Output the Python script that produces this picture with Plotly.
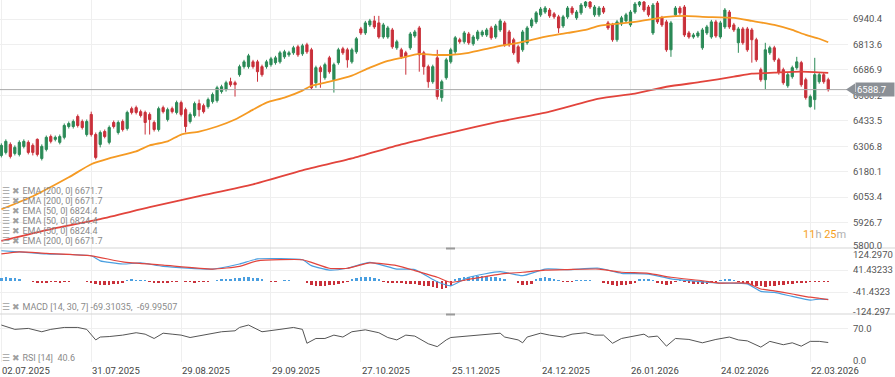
import plotly.graph_objects as go

# ---------------- data ----------------
DATE_LABELS = ["02.07.2025", "31.07.2025", "29.08.2025", "29.09.2025", "27.10.2025",
               "25.11.2025", "24.12.2025", "26.01.2026", "24.02.2026", "22.03.2026"]
DATE_BARS = [0, 20, 40, 60, 80, 100, 120, 140, 160, 180]

OPEN = [6261, 6276, 6316, 6271, 6266, 6306, 6326, 6311, 6341, 6246,
        6291, 6355, 6341, 6326, 6351, 6405, 6405, 6455, 6430, 6365,
        6465, 6365, 6316, 6380, 6326, 6425, 6375, 6430, 6395, 6494,
        6499, 6479, 6475, 6465, 6425, 6390, 6499, 6440, 6494, 6475,
        6524, 6489, 6430, 6460, 6519, 6509, 6504, 6529, 6534, 6579,
        6589, 6628, 6623, 6663, 6703, 6703, 6727, 6727, 6703, 6703,
        6713, 6723, 6727, 6752, 6762, 6772, 6802, 6767, 6812, 6787,
        6623, 6698, 6648, 6747, 6638, 6723, 6792, 6787, 6727, 6777,
        6891, 6871, 6911, 6931, 6921, 6851, 6851, 6886, 6797, 6787,
        6772, 6797, 6856, 6896, 6772, 6703, 6628, 6747, 6549, 6648,
        6727, 6777, 6837, 6827, 6866, 6817, 6842, 6861, 6861, 6896,
        6851, 6886, 6921, 6876, 6837, 6802, 6787, 6822, 6906, 6926,
        6961, 6975, 6985, 6966, 6951, 6906, 6951, 6995, 6946, 6971,
        7005, 7025, 6961, 6961, 6995, 6921, 6911, 6837, 6916, 6931,
        6911, 6975, 7010, 7025, 7000, 6871, 7020, 6946, 6926, 6787,
        6961, 6995, 7000, 6871, 6851, 6856, 6797, 6871, 6851, 6926,
        6851, 6901, 6975, 6911, 6822, 6891, 6891, 6886, 6837, 6688,
        6638, 6772, 6797, 6737, 6688, 6608, 6653, 6698, 6723, 6638,
        6504, 6539, 6628, 6663, 6638]

HIGH = [6321, 6341, 6326, 6311, 6336, 6341, 6336, 6321, 6346, 6316,
        6360, 6365, 6360, 6365, 6420, 6430, 6440, 6465, 6440, 6440,
        6479, 6375, 6385, 6390, 6410, 6435, 6435, 6440, 6484, 6504,
        6509, 6489, 6484, 6475, 6435, 6504, 6509, 6499, 6504, 6534,
        6534, 6499, 6475, 6529, 6539, 6519, 6549, 6574, 6608, 6613,
        6633, 6648, 6633, 6713, 6737, 6767, 6737, 6737, 6713, 6737,
        6752, 6757, 6782, 6787, 6782, 6807, 6812, 6817, 6822, 6797,
        6708, 6708, 6723, 6757, 6723, 6797, 6802, 6797, 6797, 6851,
        6901, 6931, 6941, 6956, 6956, 6921, 6906, 6896, 6837, 6797,
        6782, 6876, 6886, 6906, 6782, 6713, 6713, 6787, 6638, 6747,
        6797, 6856, 6847, 6881, 6876, 6861, 6886, 6886, 6896, 6906,
        6916, 6941, 6931, 6886, 6847, 6812, 6886, 6906, 6946, 6980,
        7000, 7005, 6995, 6975, 6961, 6961, 7005, 7005, 6985, 7020,
        7030, 7030, 7010, 7005, 7005, 6931, 6921, 6936, 6956, 6971,
        6985, 7025, 7030, 7030, 7010, 7020, 7030, 6956, 6936, 6931,
        7005, 7005, 7010, 6881, 6871, 6881, 6896, 6911, 6936, 6936,
        6931, 6995, 6985, 6921, 6901, 6901, 6901, 6896, 6847, 6698,
        6822, 6807, 6807, 6747, 6698, 6673, 6708, 6752, 6732, 6648,
        6564, 6747, 6673, 6673, 6648]

LOW = [6251, 6266, 6246, 6261, 6256, 6296, 6266, 6261, 6256, 6236,
       6281, 6321, 6331, 6316, 6341, 6395, 6395, 6400, 6390, 6355,
       6355, 6241, 6301, 6346, 6316, 6395, 6365, 6380, 6385, 6465,
       6465, 6450, 6365, 6365, 6380, 6380, 6470, 6430, 6470, 6465,
       6455, 6375, 6420, 6450, 6455, 6470, 6494, 6519, 6524, 6569,
       6579, 6603, 6554, 6653, 6693, 6693, 6693, 6628, 6653, 6693,
       6703, 6713, 6718, 6742, 6752, 6762, 6752, 6757, 6767, 6589,
       6598, 6598, 6638, 6668, 6574, 6713, 6762, 6698, 6718, 6767,
       6861, 6861, 6901, 6891, 6842, 6842, 6842, 6792, 6787, 6742,
       6663, 6787, 6847, 6678, 6663, 6598, 6618, 6539, 6529, 6638,
       6718, 6767, 6817, 6817, 6812, 6807, 6832, 6851, 6851, 6837,
       6842, 6876, 6802, 6802, 6762, 6718, 6777, 6812, 6896, 6916,
       6951, 6966, 6946, 6941, 6871, 6896, 6941, 6961, 6936, 6961,
       6995, 6990, 6951, 6951, 6966, 6886, 6827, 6827, 6906, 6921,
       6901, 6966, 7000, 6975, 6951, 6861, 6916, 6901, 6777, 6752,
       6951, 6961, 6851, 6842, 6842, 6847, 6787, 6861, 6842, 6847,
       6842, 6891, 6891, 6876, 6772, 6812, 6777, 6723, 6727, 6628,
       6589, 6762, 6727, 6663, 6613, 6598, 6643, 6688, 6603, 6539,
       6499, 6489, 6618, 6618, 6579]

CLOSE = [6311, 6331, 6256, 6301, 6326, 6331, 6276, 6276, 6266, 6306,
         6351, 6331, 6351, 6355, 6410, 6420, 6430, 6410, 6400, 6430,
         6365, 6251, 6375, 6355, 6400, 6405, 6425, 6390, 6475, 6475,
         6475, 6460, 6425, 6440, 6390, 6494, 6479, 6489, 6479, 6524,
         6465, 6405, 6465, 6519, 6489, 6479, 6539, 6564, 6598, 6603,
         6623, 6613, 6613, 6703, 6727, 6757, 6703, 6678, 6663, 6727,
         6742, 6747, 6772, 6777, 6772, 6797, 6762, 6807, 6777, 6598,
         6698, 6678, 6713, 6678, 6713, 6787, 6772, 6737, 6787, 6842,
         6871, 6921, 6931, 6901, 6851, 6911, 6896, 6802, 6827, 6752,
         6752, 6866, 6876, 6762, 6703, 6628, 6703, 6554, 6628, 6737,
         6787, 6847, 6827, 6871, 6822, 6851, 6876, 6876, 6886, 6847,
         6906, 6931, 6812, 6812, 6772, 6727, 6876, 6896, 6936, 6971,
         6990, 6995, 6956, 6951, 6896, 6951, 6995, 6971, 6975, 7010,
         7025, 7000, 7000, 6995, 6975, 6896, 6837, 6926, 6946, 6961,
         6975, 7015, 7025, 6985, 6961, 7010, 6926, 6911, 6787, 6921,
         6995, 6971, 6861, 6851, 6861, 6871, 6886, 6901, 6926, 6856,
         6921, 6985, 6901, 6886, 6891, 6822, 6787, 6837, 6737, 6638,
         6787, 6797, 6737, 6673, 6623, 6663, 6698, 6727, 6613, 6549,
         6554, 6663, 6663, 6628, 6588.7]

EMA50_BARS = [0, 7, 15, 20, 24, 30, 33, 37, 40, 44, 48, 52, 56, 59, 63, 67, 69, 73, 78, 82,
              86, 89, 93, 96, 100, 104, 108, 111, 115, 118, 122, 126, 130, 133, 141, 148, 152,
              156, 163, 167, 172, 176, 179, 182, 184]
EMA50_VALS = [5993, 6058, 6152, 6217, 6246, 6281, 6311, 6331, 6365, 6380, 6405, 6440, 6489,
              6524, 6549, 6584, 6608, 6628, 6658, 6698, 6732, 6747, 6767, 6762, 6762, 6772,
              6792, 6807, 6822, 6837, 6856, 6871, 6886, 6906, 6926, 6951, 6956, 6951, 6946,
              6931, 6911, 6886, 6861, 6842, 6824.4]

EMA200_BARS = [0, 11, 22, 33, 44, 56, 67, 78, 89, 100, 111, 122, 133, 141, 148, 156, 163,
               167, 172, 178, 184]
EMA200_VALS = [5835, 5894, 5944, 6003, 6058, 6117, 6187, 6246, 6316, 6375, 6430, 6479, 6544,
               6569, 6603, 6628, 6653, 6668, 6673, 6678, 6671.7]

MACD_BARS = [0, 4, 10, 20, 22, 27, 31, 36, 47, 53, 57, 67, 69, 73, 77, 82, 88, 92, 97, 100,
             104, 111, 116, 121, 126, 133, 138, 144, 149, 156, 160, 166, 169, 172, 176, 180,
             182, 184]
MACD_VALS = [114, 110, 102, 95, 76, 64, 68, 55, 45, 64, 83, 80, 58, 41, 48, 70, 45, 43, -3,
             -18, 14, 35, 20, 45, 43, 48, 29, 26, 8, -3, -8, -11, -39, -43, -58, -72, -68,
             -69.31035]

SIGNAL_BARS = [0, 4, 10, 20, 27, 36, 47, 53, 57, 67, 69, 73, 77, 82, 88, 92, 97, 100, 104,
               111, 116, 121, 126, 133, 138, 144, 149, 156, 160, 166, 169, 172, 176, 180, 182,
               184]
SIGNAL_VALS = [102, 110, 104, 95, 72, 60, 45, 55, 76, 80, 70, 48, 48, 68, 58, 39, 14, -5, 6,
               26, 33, 41, 43, 45, 33, 29, 14, 1, -8, -8, -30, -37, -49, -61, -65, -69.99507]

HIST_VALS = [12, 14, 12, 10, 4, 0, 0, -3, -4, -4,
             -4, -3, -3, -4, -3, -1, 0, 0, 0, -1,
             -8, -12, -14, -16, -15, -13, -11, -8, 3, 4,
             3, 2, 1, -3, -4, -4, -5, -4, -3, -2,
             0, -3, -3, -4, -3, -3, -2, 0, 3, 5,
             7, 8, 10, 12, 14, 15, 13, 10, 6, 0,
             -2, -2, 0, 1, 2, 0, 0, 0, -8, -14,
             -18, -20, -18, -16, -14, -10, -6, -2, 8, 12,
             15, 16, 14, 10, 5, -3, -5, -7, -8, -9,
             -10, -12, -13, -15, -17, -20, -23, -27, -30, -28,
             -18, 6, 10, 14, 16, 18, 20, 20, 18, 16,
             14, 10, 6, 0, 0, -8, -14, -14, -10, 6,
             10, 14, 12, 8, 3, -2, -2, -2, 2, 3,
             3, 2, 0, 0, -6, -12, -16, -18, -16, -14,
             -10, -6, 4, 6, 5, 3, -4, -12, -14, -10,
             -3, 2, -3, -6, -10, -12, -12, -10, -8, -5,
             3, 6, 6, 3, -3, -6, -10, -14, -18, -20,
             -22, -20, -18, -16, -14, -12, -10, -8, -5, -4,
             -3, -3, -3, -2, -2]

RSI_BARS = [0, 3, 6, 9, 11, 14, 17, 19, 21, 22, 24, 27, 30, 32, 34, 36, 38, 40, 42, 45, 49,
            52, 53, 55, 58, 62, 65, 67, 68, 70, 72, 74, 76, 78, 81, 84, 86, 88, 90, 92, 95,
            97, 99, 100, 104, 107, 111, 112, 115, 116, 117, 120, 122, 125, 127, 130, 132,
            134, 136, 138, 142, 143, 144, 146, 148, 150, 153, 156, 159, 162, 164, 166, 169,
            171, 174, 176, 178, 180, 182, 184]
RSI_VALS = [77, 68, 70, 63, 68, 72, 72, 68, 46, 52, 53, 56, 61, 58, 49, 60, 58, 56, 51, 56,
            63, 65, 72, 77, 63, 68, 72, 68, 39, 49, 49, 56, 52, 63, 67, 61, 51, 46, 56, 54,
            38, 32, 46, 51, 54, 56, 60, 52, 46, 40, 52, 60, 56, 52, 58, 61, 56, 56, 39, 49,
            56, 58, 52, 54, 33, 49, 47, 40, 47, 52, 46, 44, 31, 43, 36, 40, 33, 43, 43, 40.6]

PRICE_TICKS = [5926.7, 6053.4, 6180.1, 6306.8, 6433.5, 6560.2, 6686.9, 6813.6, 6940.4]
PRICE_MIN, PRICE_MAX = 5800.0, 7035.0
MACD_LIM = 124.297
MACD_TICKS = [41.43233, -41.4323]
RSI_TICKS = [70]
LAST_PRICE = 6588.7

# ---------------- style ----------------
W, H = 895, 377
ML, MR, MT, MB = 0, 47, 0, 15
PH = H - MT - MB
PW = W - ML - MR
PRICE_DOM = [114 / PH, 1.0]
MACD_DOM = [48 / PH, 114 / PH]
RSI_DOM = [0.0, 48 / PH]

GREEN = "#2b8a57"
RED = "#c9303a"
ORANGE = "#f59a23"
EMA_RED = "#e2443c"
BLUE = "#4a9fe0"
GRID = "#efefef"
SEP = "#d5d5d5"
TXT = "#555555"
LEG = "#8a8a8a"
FONT = "Roboto"
TICK_SIZE = 9.5

bars = list(range(len(CLOSE)))

fig = go.Figure()

fig.add_trace(go.Candlestick(
    x=bars, open=OPEN, high=HIGH, low=LOW, close=CLOSE,
    increasing=dict(line=dict(color=GREEN, width=1), fillcolor=GREEN),
    decreasing=dict(line=dict(color=RED, width=1), fillcolor=RED),
    whiskerwidth=0, xaxis="x", yaxis="y", showlegend=False, hoverinfo="skip"))

fig.add_trace(go.Scatter(x=EMA200_BARS, y=EMA200_VALS, mode="lines",
                         line=dict(color=EMA_RED, width=1.8, shape="spline", smoothing=0.6),
                         xaxis="x", yaxis="y", showlegend=False, hoverinfo="skip"))
fig.add_trace(go.Scatter(x=EMA50_BARS, y=EMA50_VALS, mode="lines",
                         line=dict(color=ORANGE, width=1.8, shape="spline", smoothing=0.6),
                         xaxis="x", yaxis="y", showlegend=False, hoverinfo="skip"))

fig.add_trace(go.Bar(x=bars, y=HIST_VALS, width=0.55,
                     marker=dict(color=[BLUE if v >= 0 else RED for v in HIST_VALS], line=dict(width=0)),
                     xaxis="x2", yaxis="y2", showlegend=False, hoverinfo="skip"))
fig.add_trace(go.Scatter(x=MACD_BARS, y=MACD_VALS, mode="lines",
                         line=dict(color=BLUE, width=1.2, shape="spline", smoothing=0.5),
                         xaxis="x2", yaxis="y2", showlegend=False, hoverinfo="skip"))
fig.add_trace(go.Scatter(x=SIGNAL_BARS, y=SIGNAL_VALS, mode="lines",
                         line=dict(color=EMA_RED, width=1.2, shape="spline", smoothing=0.5),
                         xaxis="x2", yaxis="y2", showlegend=False, hoverinfo="skip"))

fig.add_trace(go.Scatter(x=RSI_BARS, y=RSI_VALS, mode="lines",
                         line=dict(color="#555555", width=1),
                         xaxis="x3", yaxis="y3", showlegend=False, hoverinfo="skip"))

xr = [-0.3, 188.4]
xcommon = dict(range=xr, tickvals=DATE_BARS, showgrid=True, gridcolor=GRID, gridwidth=1,
               zeroline=False, showline=False, ticks="", fixedrange=True, automargin=False,
               showticklabels=False)
ycommon = dict(side="right", showgrid=True, gridcolor=GRID, zeroline=False, showline=False,
               ticks="", tickfont=dict(family=FONT, size=TICK_SIZE, color=TXT),
               ticklabelstandoff=4, automargin=False, fixedrange=True)

fig.update_layout(
    template="none",
    width=W, height=H, margin=dict(l=ML, r=MR, t=MT, b=MB, pad=0),
    paper_bgcolor="white", plot_bgcolor="white", showlegend=False,
    font=dict(family=FONT, size=TICK_SIZE, color=TXT),
    bargap=0,
    xaxis=dict(xcommon, anchor="y", rangeslider=dict(visible=False)),
    xaxis2=dict(xcommon, anchor="y2", matches="x"),
    xaxis3=dict(xcommon, anchor="y3", matches="x"),
    yaxis=dict(ycommon, domain=PRICE_DOM, range=[PRICE_MIN, PRICE_MAX], anchor="x",
               tickvals=PRICE_TICKS, ticktext=[f"{v:.1f}" for v in PRICE_TICKS]),
    yaxis2=dict(ycommon, domain=MACD_DOM, range=[-MACD_LIM, MACD_LIM], anchor="x2",
                tickvals=MACD_TICKS, ticktext=["41.43233", "-41.4323"]),
    yaxis3=dict(ycommon, domain=RSI_DOM, range=[0, 100], anchor="x3",
                tickvals=RSI_TICKS, ticktext=["70.0"]),
)

shapes = []
xr_full = W / PW
for yv in (PRICE_DOM[0], MACD_DOM[0]):
    shapes.append(dict(type="line", xref="paper", yref="paper", x0=0, x1=xr_full, y0=yv, y1=yv,
                       line=dict(color=SEP, width=1)))
    shapes.append(dict(type="rect", xref="paper", yref="paper", x0=446 / PW, x1=455 / PW,
                       y0=yv - 1.5 / PH, y1=yv + 0.5 / PH, fillcolor="#9a9a9a", line=dict(width=0)))
# last price line
shapes.append(dict(type="line", xref="x domain", yref="y", x0=0, x1=1, y0=LAST_PRICE, y1=LAST_PRICE,
                   line=dict(color="#a9a9a9", width=1)))
# pointer of the last-price tag
du = (PRICE_MAX - PRICE_MIN) / (PRICE_DOM[1] - PRICE_DOM[0]) / PH  # price per px
x_tip = 1.0 - 2 / PW
x_box = 1.0 + 7 / PW
h = 6 * du
shapes.append(dict(type="path", xref="paper", yref="y",
                   path=f"M {x_tip},{LAST_PRICE} L {x_box},{LAST_PRICE + h} L {x_box},{LAST_PRICE - h} Z",
                   fillcolor="#8b9096", line=dict(width=0)))
fig.update_layout(shapes=shapes)

ann = []
icon = "<span style='color:#a0a0a0'>☰ ✖</span> "
leg_rows = [("EMA [200, 0]", EMA200_VALS[-1]), ("EMA [200, 0]", EMA200_VALS[-1]),
            ("EMA [50, 0]", EMA50_VALS[-1]), ("EMA [50, 0]", EMA50_VALS[-1]),
            ("EMA [50, 0]", EMA50_VALS[-1]), ("EMA [200, 0]", EMA200_VALS[-1])]
for k, (name, val) in enumerate(leg_rows):
    ypx = 191 + 10 * k
    ann.append(dict(xref="paper", yref="paper", x=0, y=1 - ypx / PH, xanchor="left", yanchor="middle",
                    text=f"{icon}{name} {val:.1f}", showarrow=False,
                    font=dict(family=FONT, size=9, color=LEG)))
ann.append(dict(xref="paper", yref="paper", x=0, y=1 - 307 / PH, xanchor="left", yanchor="middle",
                text=f"{icon}MACD [14, 30, 7] {MACD_VALS[-1]:.5f},  {SIGNAL_VALS[-1]:.5f}", showarrow=False,
                font=dict(family=FONT, size=9, color=LEG)))
ann.append(dict(xref="paper", yref="paper", x=0, y=1 - 358 / PH, xanchor="left", yanchor="middle",
                text=f"{icon}RSI [14]  {RSI_VALS[-1]:.1f}", showarrow=False,
                font=dict(family=FONT, size=9, color=LEG)))

# date labels, left-aligned on their grid lines
for b, lab in zip(DATE_BARS, DATE_LABELS):
    ann.append(dict(xref="x3", yref="paper", x=b, y=-8 / PH, xanchor="left", yanchor="middle",
                    xshift=-1, text=lab, showarrow=False,
                    font=dict(family=FONT, size=TICK_SIZE, color="#444444")))

# boundary axis labels kept inside their panes
for text, yref, yv, ys in [(f"{PRICE_MIN:.1f}", "y", PRICE_MIN, 3),
                           ("124.2970", "y2", MACD_LIM, -6),
                           ("-124.297", "y2", -MACD_LIM, 3),
                           ("0.0", "y3", 0, 2)]:
    ann.append(dict(xref="paper", yref=yref, x=1.0, y=yv, xanchor="left", yanchor="middle",
                    xshift=3, yshift=ys, text=text, showarrow=False,
                    font=dict(family=FONT, size=TICK_SIZE, color=TXT)))

# last price tag (box covers the tick label below it)
ann.append(dict(xref="paper", yref="y", x=x_box, y=LAST_PRICE, xanchor="left", yanchor="middle",
                text=f"{LAST_PRICE:.1f}&nbsp;&nbsp;&nbsp;", showarrow=False, bgcolor="#8b9096", borderpad=1,
                font=dict(family=FONT, size=TICK_SIZE, color="white")))

# countdown
ann.append(dict(xref="paper", yref="paper", x=1.0, y=1 - 234 / PH, xanchor="right", yanchor="middle",
                text="<span style='color:#f5a11c'>11</span>h <span style='color:#f5a11c'>25</span>m",
                showarrow=False, font=dict(family=FONT, size=11, color="#b0b0b0")))

fig.update_layout(annotations=ann)

fig.write_html("out.html",
               config={"displayModeBar": False},
               post_script="document.body.style.margin='0px';document.body.style.padding='0px';")
